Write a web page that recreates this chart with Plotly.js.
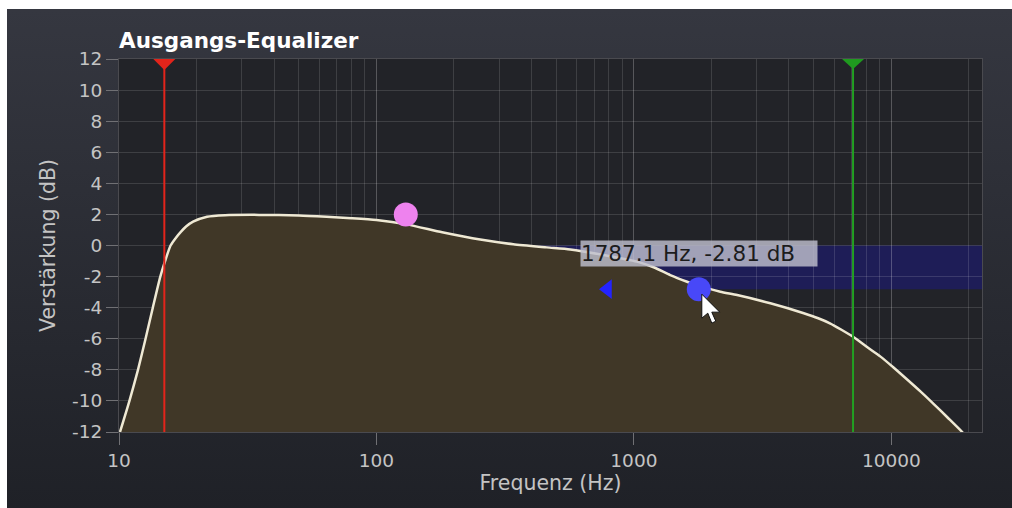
<!DOCTYPE html>
<html><head><meta charset="utf-8">
<script src="https://cdn.plot.ly/plotly-3.0.1.min.js"></script>
<style>
html,body{margin:0;padding:0;background:#fff;width:1012px;height:508px;overflow:hidden}
#panel{position:absolute;left:7px;top:9px;width:1005px;height:499px;background:linear-gradient(#353740,#1f2127)}
#chart{position:absolute;left:0;top:0;width:1012px;height:508px}
</style></head><body>
<div id="panel"></div><div id="chart"></div>
<script>
// Frequency response of the output equalizer
const freqHz = [10.09, 10.98, 11.85, 12.68, 13.53, 14.47, 15.10, 15.86, 16.65, 17.42, 18.22, 19.40, 21.98, 25.82, 35, 50, 64, 80, 100, 131, 180, 253, 340, 459, 566, 763, 1028, 1193, 1384, 1609, 1787.1, 2167, 2518, 3390, 4571, 5200, 5800, 6400, 7145, 8000, 9080, 10200, 11520, 13000, 14620, 16500, 18850, 21000];
const gainDb = [-12, -10, -8, -6, -4, -2, -1, 0, 0.5, 0.89, 1.22, 1.53, 1.85, 1.95, 1.97, 1.93, 1.85, 1.76, 1.64, 1.36, 0.85, 0.38, 0.08, -0.12, -0.25, -0.61, -1.04, -1.40, -1.90, -2.33, -2.6, -2.97, -3.19, -3.72, -4.36, -4.68, -5.02, -5.42, -5.9, -6.5, -7.15, -7.85, -8.62, -9.4, -10.2, -11.05, -12.0, -12.85];

// Filter markers
const lowCutHz = 15;
const highCutHz = 7100;

// Band handles
const bandHz = [130, 1787.1];
const bandDb = [2.0, -2.81];
const bandColors = ['violet', '#4848f8'];
const qHandleHz = [790];
const qHandleDb = [-2.81];
const selBandStartHz = 177;

// Axes
const xRangeHz = [10, 22500];
const xTickVals = [10, 100, 1000, 10000];
const xTickText = ['10', '100', '1000', '10000'];
const yRange = [-12, 12];
const yTickVals = [-12, -10, -8, -6, -4, -2, 0, 2, 4, 6, 8, 10, 12];
const yTickText = ['-12', '-10', '-8', '-6', '-4', '-2', '0', '2', '4', '6', '8', '10', '12'];

const tooltipText = '1787.1 Hz, -2.81 dB';

const FONT = 'DejaVu Sans, Verdana, sans-serif';
const GRID = 'rgba(255,255,255,0.13)';
const TXT = '#c4c4c4';

const traces = [
  {x: freqHz, y: freqHz.map(() => yRange[0]), mode: 'lines', line: {width: 0}, hoverinfo: 'skip', showlegend: false},
  {x: freqHz, y: gainDb, mode: 'lines', fill: 'tonexty', fillcolor: '#403727',
   line: {color: '#efe9d4', width: 2.5, shape: 'spline', smoothing: 0.6}, hoverinfo: 'skip', showlegend: false},
  {x: bandHz, y: bandDb, mode: 'markers', marker: {size: 24, color: bandColors}, cliponaxis: false, hoverinfo: 'skip', showlegend: false},
  {x: qHandleHz, y: qHandleDb, mode: 'markers', marker: {size: 17, symbol: 'triangle-left', color: '#2323ff'}, hoverinfo: 'skip', showlegend: false}
];

const shapes = [
  {type: 'rect', xref: 'x', yref: 'y', x0: selBandStartHz, x1: xRangeHz[1], y0: bandDb[1], y1: 0, fillcolor: '#1e1d57', line: {width: 0}, layer: 'below'},
  {type: 'line', xref: 'x', yref: 'y', x0: lowCutHz, x1: lowCutHz, y0: yRange[0], y1: yRange[1], line: {color: '#e3241b', width: 2}},
  {type: 'line', xref: 'x', yref: 'y', x0: highCutHz, x1: highCutHz, y0: yRange[0], y1: yRange[1], line: {color: '#22a022', width: 2}},
  {type: 'path', xref: 'x', yref: 'y', xsizemode: 'pixel', ysizemode: 'pixel', xanchor: lowCutHz, yanchor: yRange[1],
   path: 'M-11,0 L11,0 L0,-11 Z', fillcolor: '#e3241b', line: {width: 0}},
  {type: 'path', xref: 'x', yref: 'y', xsizemode: 'pixel', ysizemode: 'pixel', xanchor: highCutHz, yanchor: yRange[1],
   path: 'M-11,0 L11,0 L0,-10 Z', fillcolor: '#1f9a1f', line: {width: 0}},
  // mouse cursor
  {type: 'path', xref: 'x', yref: 'y', xsizemode: 'pixel', ysizemode: 'pixel', xanchor: bandHz[1], yanchor: bandDb[1],
   path: 'M3,-5 L3,-29 L9,-24 L13,-34 L17,-32 L13,-23 L21,-23 Z', fillcolor: '#ffffff', line: {color: '#111', width: 1}}
];

const layout = {
  width: 1012, height: 508,
  margin: {l: 119, r: 30, t: 59, b: 76},
  paper_bgcolor: 'rgba(0,0,0,0)',
  plot_bgcolor: '#222328',
  font: {family: FONT, color: TXT},
  title: {text: '<b>Ausgangs-Equalizer</b>', font: {family: FONT, size: 21.5, color: '#ffffff'},
          xref: 'paper', x: 0, xanchor: 'left', yref: 'container', y: 1 - 40 / 508, yanchor: 'middle'},
  xaxis: {type: 'log', range: [Math.log10(xRangeHz[0]), Math.log10(xRangeHz[1])],
          tickmode: 'array', tickvals: xTickVals, ticktext: xTickText,
          ticks: 'outside', ticklen: 12, tickcolor: '#707074', tickwidth: 1,
          tickfont: {family: FONT, size: 18.5, color: TXT},
          showgrid: true, gridcolor: GRID, gridwidth: 1,
          minor: {dtick: 'D1', showgrid: true, gridcolor: GRID, gridwidth: 1, ticks: ''},
          showline: true, mirror: true, linecolor: '#4a4a4f', linewidth: 1,
          zeroline: false, layer: 'above traces',
          title: {text: 'Frequenz (Hz)', font: {family: FONT, size: 20.5, color: TXT}, standoff: 3}},
  yaxis: {range: yRange, tickmode: 'array', tickvals: yTickVals, ticktext: yTickText,
          ticks: 'outside', ticklen: 12, tickcolor: '#707074', tickwidth: 1,
          tickfont: {family: FONT, size: 18.5, color: TXT},
          showgrid: true, gridcolor: GRID, gridwidth: 1,
          showline: true, mirror: true, linecolor: '#4a4a4f', linewidth: 1,
          zeroline: false, layer: 'above traces',
          title: {text: 'Verstärkung (dB)', font: {family: FONT, size: 20.5, color: TXT}, standoff: 10}},
  shapes: shapes,
  annotations: [{
    x: Math.log10(bandHz[1]), y: bandDb[1], xref: 'x', yref: 'y',
    text: tooltipText, showarrow: true, arrowcolor: 'rgba(0,0,0,0)', ax: 0, ay: -35.5,
    bgcolor: 'rgba(190,190,205,0.82)', borderpad: 0, width: 236, height: 25, align: 'left',
    font: {family: FONT, size: 21.5, color: '#1c1c1c'}
  }],
  showlegend: false
};

Plotly.newPlot('chart', traces, layout, {displayModeBar: false, staticPlot: true});
</script>
</body></html>
